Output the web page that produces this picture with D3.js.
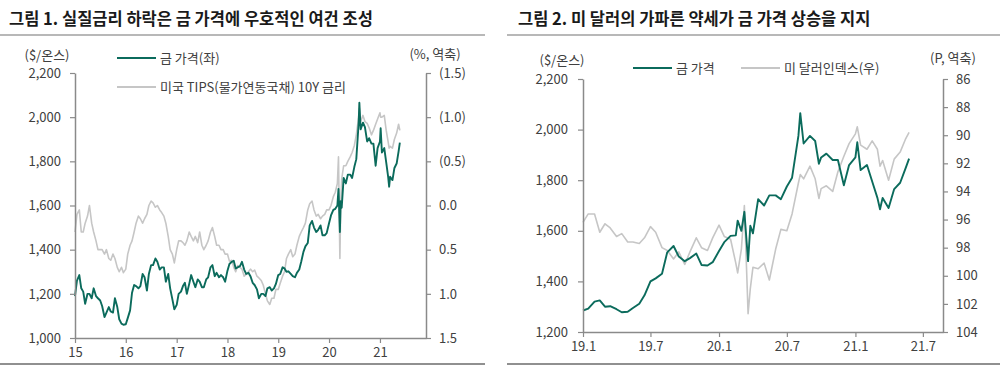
<!DOCTYPE html>
<html><head><meta charset="utf-8">
<script src="https://cdn.jsdelivr.net/npm/d3@7"></script>
<style>
body{margin:0;background:#fff}
svg{display:block}
text{font-family:"Noto Sans CJK KR","Noto Sans",sans-serif}
</style>
</head><body>
<svg id="c" width="1000" height="372"></svg>
<script>
// ---------- Figure 1 data ----------
const dates1 = [
"2015-01-01","2015-01-15","2015-02-01","2015-02-15","2015-03-01","2015-03-15","2015-04-01","2015-04-15","2015-05-01","2015-05-15","2015-06-01","2015-06-15","2015-07-01","2015-07-15","2015-08-01","2015-08-15","2015-09-01","2015-09-15","2015-10-01","2015-10-15","2015-11-01","2015-11-15","2015-12-01","2015-12-15",
"2016-01-01","2016-01-15","2016-02-01","2016-02-15","2016-03-01","2016-03-15","2016-04-01","2016-04-15","2016-05-01","2016-05-15","2016-06-01","2016-06-15","2016-07-01","2016-07-15","2016-08-01","2016-08-15","2016-09-01","2016-09-15","2016-10-01","2016-10-15","2016-11-01","2016-11-15","2016-12-01","2016-12-15",
"2017-01-01","2017-01-15","2017-02-01","2017-02-15","2017-03-01","2017-03-15","2017-04-01","2017-04-15","2017-05-01","2017-05-15","2017-06-01","2017-06-15","2017-07-01","2017-07-15","2017-08-01","2017-08-15","2017-09-01","2017-09-15","2017-10-01","2017-10-15","2017-11-01","2017-11-15","2017-12-01","2017-12-15",
"2018-01-01","2018-01-15","2018-02-01","2018-02-15","2018-03-01","2018-03-15","2018-04-01","2018-04-15","2018-05-01","2018-05-15","2018-06-01","2018-06-15","2018-07-01","2018-07-15","2018-08-01","2018-08-15","2018-09-01","2018-09-15","2018-10-01","2018-10-15","2018-11-01","2018-11-15","2018-12-01","2018-12-15",
"2019-01-01","2019-01-15","2019-02-01","2019-02-15","2019-03-01","2019-03-15","2019-04-01","2019-04-15","2019-05-01","2019-05-15","2019-06-01","2019-06-15","2019-07-01","2019-07-15","2019-08-01","2019-08-15","2019-09-01","2019-09-15","2019-10-01","2019-10-15","2019-11-01","2019-11-15","2019-12-01","2019-12-15",
"2020-01-01","2020-01-15","2020-02-01","2020-02-15","2020-03-01","2020-03-09","2020-03-19","2020-03-25","2020-04-01","2020-04-15","2020-05-01","2020-05-15","2020-06-01","2020-06-15","2020-07-01","2020-07-15","2020-08-01","2020-08-06","2020-08-15","2020-09-01","2020-09-15","2020-10-01","2020-10-15","2020-11-01","2020-11-15","2020-12-01","2020-12-15",
"2021-01-01","2021-01-06","2021-01-15","2021-02-01","2021-02-15","2021-03-01","2021-03-08","2021-03-15","2021-04-01","2021-04-15","2021-05-01","2021-05-15","2021-05-24"
];
const gold1 = [
1190,1260,1285,1225,1210,1155,1200,1200,1180,1225,1190,1180,1170,1145,1095,1115,1140,1120,1115,1180,1140,1085,1065,1060,
1062,1090,1125,1205,1240,1235,1225,1235,1290,1275,1215,1290,1330,1330,1360,1345,1310,1320,1320,1255,1290,1225,1175,1130,
1150,1200,1210,1235,1250,1200,1245,1285,1255,1230,1265,1255,1230,1230,1265,1275,1320,1330,1280,1295,1275,1285,1275,1255,
1305,1335,1345,1350,1315,1320,1325,1345,1310,1290,1295,1280,1250,1240,1220,1180,1200,1200,1190,1225,1230,1215,1225,1245,
1285,1290,1320,1315,1300,1302,1290,1280,1275,1295,1310,1345,1390,1415,1430,1510,1530,1500,1480,1490,1510,1465,1465,1475,
1520,1555,1580,1585,1600,1675,1480,1620,1590,1725,1700,1740,1740,1725,1775,1810,1975,2065,1945,1975,1955,1890,1905,1880,1880,1780,1860,
1890,1950,1840,1860,1795,1730,1685,1730,1715,1770,1790,1845,1885
];
const tips1 = [
0.30,0.10,0.05,0.30,0.30,0.20,0.12,0.00,0.20,0.30,0.40,0.50,0.50,0.50,0.55,0.50,0.60,0.62,0.55,0.60,0.70,0.75,0.70,0.76,
0.72,0.55,0.45,0.40,0.30,0.20,0.12,0.15,0.20,0.15,0.10,0.00,-0.05,-0.03,0.02,0.00,0.05,0.08,0.12,0.20,0.35,0.50,0.55,0.65,
0.50,0.40,0.40,0.42,0.45,0.40,0.30,0.35,0.40,0.35,0.42,0.30,0.45,0.50,0.45,0.40,0.30,0.25,0.35,0.45,0.45,0.50,0.50,0.55,
0.55,0.63,0.62,0.70,0.75,0.68,0.70,0.72,0.80,0.78,0.75,0.72,0.75,0.73,0.80,0.82,0.85,0.90,1.00,1.08,1.12,1.05,1.05,0.95,
0.95,0.88,0.80,0.75,0.60,0.55,0.50,0.58,0.55,0.45,0.35,0.30,0.25,0.20,0.05,-0.02,-0.05,0.05,0.12,0.10,0.15,0.12,0.10,0.05,
0.05,0.00,-0.10,-0.15,-0.25,-0.55,0.60,0.00,-0.30,-0.45,-0.45,-0.50,-0.55,-0.60,-0.68,-0.80,-1.00,-1.10,-0.95,-1.02,-0.95,-0.93,-0.88,-0.80,-0.85,-0.92,-0.98,
-1.05,-1.00,-1.00,-1.02,-0.85,-0.72,-0.65,-0.67,-0.65,-0.75,-0.82,-0.92,-0.85
];
const goldTicks1 = [1000,1200,1400,1600,1800,2000,2200];
const tipsTicks1 = [-1.5,-1.0,-0.5,0.0,0.5,1.0,1.5];
const xTickDates1 = ["2015-01-01","2016-01-01","2017-01-01","2018-01-01","2019-01-01","2020-01-01","2021-01-01"];
const xTickLabels1 = ["15","16","17","18","19","20","21"];

// ---------- Figure 2 data ----------
const dates2 = [
"2019-01-01","2019-01-15","2019-02-01","2019-02-15","2019-03-01","2019-03-15","2019-04-01","2019-04-15","2019-05-01","2019-05-15","2019-06-01","2019-06-15","2019-07-01","2019-07-15","2019-08-01","2019-08-15","2019-09-01","2019-09-15","2019-10-01","2019-10-15","2019-11-01","2019-11-15","2019-12-01","2019-12-15",
"2020-01-01","2020-01-15","2020-02-01","2020-02-15","2020-02-20","2020-03-01","2020-03-09","2020-03-19","2020-03-25","2020-04-01","2020-04-15","2020-05-01","2020-05-15","2020-06-01","2020-06-15","2020-07-01","2020-07-15","2020-08-01","2020-08-06","2020-08-15","2020-09-01","2020-09-15","2020-09-25","2020-10-01","2020-10-15","2020-11-01","2020-11-15","2020-12-01","2020-12-15",
"2021-01-01","2021-01-06","2021-01-15","2021-02-01","2021-02-15","2021-03-01","2021-03-08","2021-03-15","2021-03-31","2021-04-15","2021-05-01","2021-05-15","2021-05-25"
];
const gold2 = [
1285,1292,1320,1325,1300,1302,1290,1278,1280,1295,1312,1345,1400,1412,1430,1515,1540,1498,1480,1492,1510,1465,1463,1476,
1520,1555,1580,1582,1640,1600,1675,1480,1620,1590,1725,1700,1740,1740,1725,1775,1810,1975,2065,1945,1975,1955,1865,1890,1905,1880,1880,1780,1860,
1890,1950,1840,1860,1795,1730,1685,1730,1690,1765,1790,1845,1885
];
const dxy2 = [
96.2,95.6,95.6,96.9,96.3,96.6,97.2,97.0,97.6,97.6,97.7,97.3,96.5,96.9,98.0,98.2,98.8,98.3,99.2,98.3,97.3,98.0,98.2,97.3,
96.4,97.2,97.4,99.1,99.8,98.1,95.0,102.7,100.9,99.4,99.5,99.1,100.3,98.1,96.7,96.8,95.6,93.4,92.8,93.1,92.2,93.1,94.5,93.8,93.6,94.0,92.6,91.5,90.6,
89.9,89.4,90.7,91.0,90.4,91.0,92.2,91.8,93.2,91.7,91.2,90.3,89.8
];
const goldTicks2 = [1200,1400,1600,1800,2000,2200];
const dxyTicks2 = [86,88,90,92,94,96,98,100,102,104];
const xTickDates2 = ["2019-01-01","2019-07-01","2020-01-01","2020-07-01","2021-01-01","2021-07-01"];
const xTickLabels2 = ["19.1","19.7","20.1","20.7","21.1","21.7"];

// ---------- drawing ----------
const TEAL = "#0b6b5c", GRAY = "#c6c6c6", AXIS = "#8a8a8a", LABEL = "#404040";
const parse = d3.timeParse("%Y-%m-%d");
const svg = d3.select("#c");

function styleAxis(sel){
  sel.selectAll("path.domain").attr("stroke", AXIS).attr("stroke-width", 1.5);
  sel.selectAll(".tick line").attr("stroke", AXIS).attr("stroke-width", 1.2);
  sel.selectAll(".tick text").attr("fill", LABEL).attr("font-size", 13)
     .attr("font-family", '"Noto Sans CJK KR","Noto Sans",sans-serif');
}

function panel(cfg){
  const g = svg.append("g");
  g.append("text").attr("x", cfg.titleX).attr("y", 25).attr("font-size", 16.5).attr("font-weight", 700)
    .attr("fill", "#1a1a1a").text(cfg.title);
  g.append("line").attr("x1", cfg.sepX0).attr("x2", cfg.sepX1).attr("y1", 35).attr("y2", 35)
    .attr("stroke", "#a0a0a0").attr("stroke-width", 1.5);
  g.append("line").attr("x1", cfg.sepX0).attr("x2", cfg.sepX1).attr("y1", 364).attr("y2", 364)
    .attr("stroke", "#909090").attr("stroke-width", 2);

  const x = d3.scaleTime().domain(cfg.xDomain.map(parse)).range([cfg.x0, cfg.x1]);
  const yL = d3.scaleLinear().domain(cfg.yLDomain).range([cfg.yB, cfg.yT]);
  const yR = d3.scaleLinear().domain(cfg.yRDomain).range([cfg.yT, cfg.yB]);

  const dates = cfg.dates.map(parse);
  const lineR = d3.line().x((d,i)=>x(dates[i])).y(d=>yR(d));
  const lineL = d3.line().x((d,i)=>x(dates[i])).y(d=>yL(d));
  g.append("path").datum(cfg.rightVals).attr("d", lineR).attr("fill","none")
    .attr("stroke", GRAY).attr("stroke-width", 1.6).attr("stroke-linejoin","round");
  g.append("path").datum(cfg.leftVals).attr("d", lineL).attr("fill","none")
    .attr("stroke", TEAL).attr("stroke-width", 1.9).attr("stroke-linejoin","round");

  const ax = g.append("g").attr("transform", `translate(0,${cfg.yB})`)
    .call(d3.axisBottom(x).tickValues(cfg.xTicks.map(parse)).tickSize(5).tickSizeOuter(0).tickPadding(5)
      .tickFormat((d,i)=>cfg.xLabels[i]));
  styleAxis(ax);
  const al = g.append("g").attr("transform", `translate(${cfg.x0},0)`)
    .call(d3.axisLeft(yL).tickValues(cfg.yLTicks).tickSize(5).tickSizeOuter(0).tickPadding(cfg.padL)
      .tickFormat(d3.format(",")));
  styleAxis(al);
  const ar = g.append("g").attr("transform", `translate(${cfg.x1},0)`)
    .call(d3.axisRight(yR).tickValues(cfg.yRTicks).tickSize(5).tickSizeOuter(0).tickPadding(cfg.padR)
      .tickFormat(cfg.rFormat));
  styleAxis(ar);

  g.append("text").attr("x", cfg.unitL[0]).attr("y", cfg.unitL[1]).attr("text-anchor","middle")
    .attr("font-size", 13).attr("fill", LABEL).text(cfg.unitLText);
  g.append("text").attr("x", cfg.unitR[0]).attr("y", cfg.unitR[1]).attr("text-anchor","middle")
    .attr("font-size", 13).attr("fill", LABEL).text(cfg.unitRText);

  cfg.legend.forEach(L=>{
    g.append("line").attr("x1", L.x).attr("x2", L.x + 39).attr("y1", L.y).attr("y2", L.y)
      .attr("stroke", L.color).attr("stroke-width", L.w);
    g.append("text").attr("x", L.x + 43).attr("y", L.y + 5).attr("font-size", 13)
      .attr("fill", LABEL).text(L.text);
  });
}

panel({
  title: "그림 1. 실질금리 하락은 금 가격에 우호적인 여건 조성", titleX: 9, sepX0: 0, sepX1: 485,
  xDomain: ["2015-01-01","2021-11-28"], x0: 75, x1: 426, yT: 73, yB: 338,
  yLDomain: [1000, 2200], yRDomain: [-1.5, 1.5],
  dates: dates1, leftVals: gold1, rightVals: tips1,
  xTicks: xTickDates1, xLabels: xTickLabels1, yLTicks: goldTicks1, yRTicks: tipsTicks1,
  padL: 9, padR: 8,
  rFormat: d => d < 0 ? "(" + d3.format(".1f")(-d) + ")" : d3.format(".1f")(d),
  unitL: [47, 60], unitLText: "($/온스)", unitR: [435, 59], unitRText: "(%, 역축)",
  legend: [
    {x: 117, y: 58, color: TEAL, w: 2.2, text: "금 가격(좌)"},
    {x: 117, y: 87, color: GRAY, w: 1.8, text: "미국 TIPS(물가연동국채) 10Y 금리"}
  ]
});

panel({
  title: "그림 2. 미 달러의 가파른 약세가 금 가격 상승을 지지", titleX: 518, sepX0: 507, sepX1: 1000,
  xDomain: ["2019-01-01","2021-08-24"], x0: 583, x1: 943, yT: 79, yB: 332,
  yLDomain: [1200, 2200], yRDomain: [86, 104],
  dates: dates2, leftVals: gold2, rightVals: dxy2,
  xTicks: xTickDates2, xLabels: xTickLabels2, yLTicks: goldTicks2, yRTicks: dxyTicks2,
  padL: 10, padR: 8,
  rFormat: d3.format("d"),
  unitL: [562, 65], unitLText: "($/온스)", unitR: [953, 63], unitRText: "(P, 역축)",
  legend: [
    {x: 633, y: 68, color: TEAL, w: 2.2, text: "금 가격"},
    {x: 741, y: 68, color: GRAY, w: 1.8, text: "미 달러인덱스(우)"}
  ]
});
</script>
</body></html>
